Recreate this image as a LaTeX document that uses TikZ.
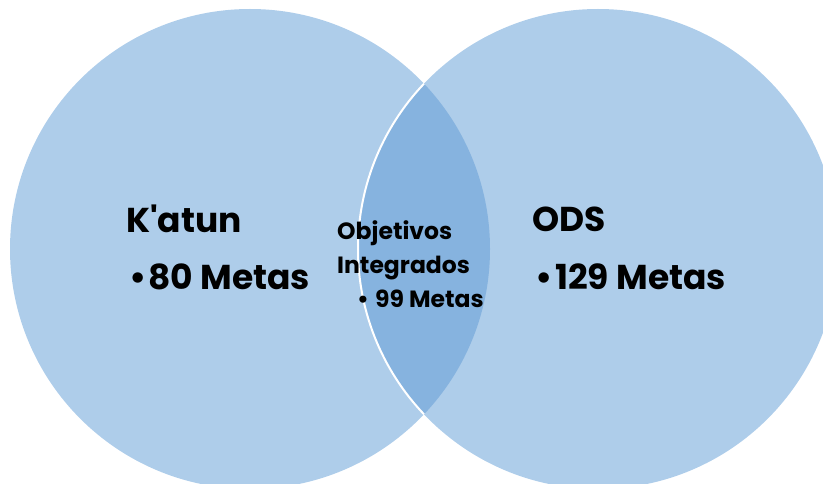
\documentclass[tikz,border=0pt]{standalone}
\usepackage{fontspec}
\setmainfont{Poppins}
\definecolor{circfill}{RGB}{174,205,234}
\definecolor{lensfill}{RGB}{134,179,223}
\tikzset{
  big/.style={anchor=base west,inner sep=0pt,font=\bfseries\fontsize{34.5}{40}\selectfont},
  small/.style={anchor=base west,inner sep=0pt,font=\bfseries\fontsize{23.5}{28}\selectfont}
}
\begin{document}
\begin{tikzpicture}[x=1pt,y=-1pt]
\useasboundingbox (0,0) rectangle (823,484);
\clip (0,0) rectangle (823,484);
\coordinate (cl) at (250,249);
\coordinate (cr) at (598,249);
\fill[circfill] (cl) circle[radius=240pt];
\fill[circfill] (cr) circle[radius=240pt];
\begin{scope}
  \clip (cl) circle[radius=240pt];
  \fill[lensfill] (cr) circle[radius=240pt];
  \draw[white,line width=2pt] (cr) circle[radius=240pt];
\end{scope}
\node[big] (katun) at (126,233) {K\textquotesingle atun};
\node[big] (b1) at (129,289) {\textbullet};
\node[big] (m80) at (148,289) {80 Metas};
\node[big] (ods) at (532,232) {ODS};
\node[big] (b2) at (535,290) {\textbullet};
\node[big] (m129) at (555,290) {129 Metas};
\node[small] (obj) at (337,240) {Objetivos};
\node[small] (int) at (337,273) {Integrados};
\node[small] (b3) at (357,308) {\textbullet};
\node[small] (m99) at (375,308) {99 Metas};
\end{tikzpicture}
\end{document}
